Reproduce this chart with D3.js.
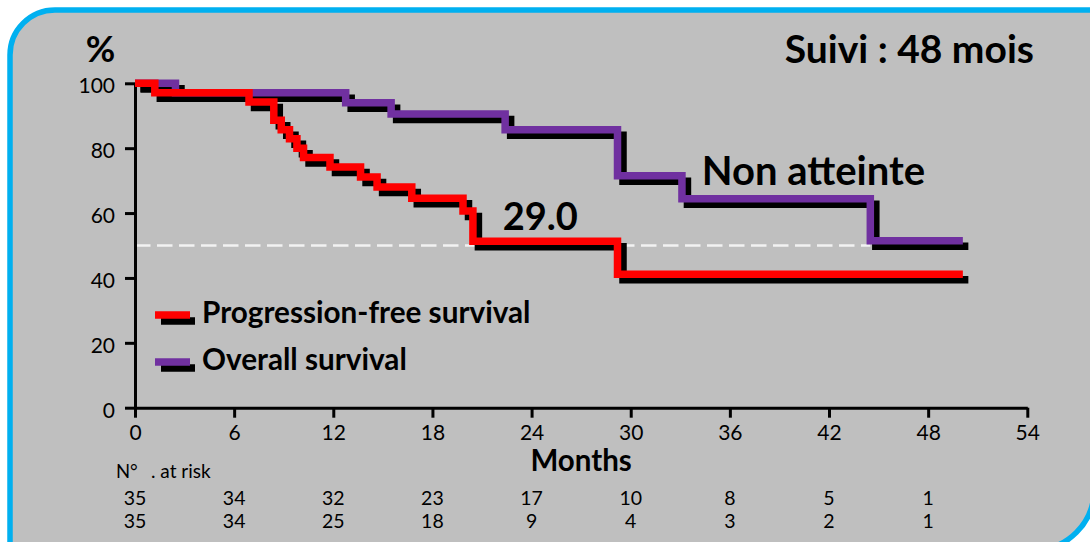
<!DOCTYPE html>
<html>
<head>
<meta charset="utf-8">
<script src="https://cdn.jsdelivr.net/npm/d3@7"></script>
<style>
  html, body { margin: 0; padding: 0; background: #ffffff; }
  svg { display: block; font-family: Lato, "Open Sans", sans-serif; }
</style>
</head>
<body>
<svg id="chart" width="1090" height="542"></svg>
<script>
// Kaplan–Meier steps: time in months, percentage still event-free
const pfsMonths  = [0, 1.2, 6.9, 8.4, 8.85, 9.35, 9.8, 10.2, 11.8, 13.65, 14.65, 16.75, 19.85, 20.45, 29.2, 50.1];
const pfsPercent = [100, 97.1, 94.2, 88.6, 85.7, 82.9, 80.0, 77.1, 74.2, 71.1, 68.0, 64.6, 60.6, 51.3, 41.1, 41.1];
const osMonths   = [0, 2.45, 12.75, 15.5, 22.4, 29.2, 33.1, 44.5, 50.1];
const osPercent  = [100, 97.1, 94.0, 90.5, 85.7, 71.5, 64.4, 51.5, 51.5];

// Axes
const monthTicks   = [0, 6, 12, 18, 24, 30, 36, 42, 48, 54];
const percentTicks = [0, 20, 40, 60, 80, 100];

// Numbers at risk
const riskMonths = [0, 6, 12, 18, 24, 30, 36, 42, 48];
const atRiskOs   = [35, 34, 32, 23, 17, 10, 8, 5, 1];
const atRiskPfs  = [35, 34, 25, 18, 9, 4, 3, 2, 1];

// Texts
const seriesNames  = ["Progression-free survival", "Overall survival"];
const medianPfs    = "29.0";
const medianOs     = "Non atteinte";
const followUp     = "Suivi : 48 mois";
const medianLevel  = 50;

const colors = { pfs: "#ff0000", os: "#7030a0", shadow: "#000000", frame: "#00b0f0", panel: "#bfbfbf" };

const svg = d3.select("#chart");

// Panel with two rounded diagonal corners
const L = 10, T = 10, R = 1094, B = 550, r1 = 45, r2 = 60;
svg.append("path")
  .attr("d", `M${L},${T + r1} A${r1},${r1} 0 0 1 ${L + r1},${T} L${R},${T} L${R},${B - r2} A${r2},${r2} 0 0 1 ${R - r2},${B} L${L},${B} Z`)
  .attr("fill", colors.panel)
  .attr("stroke", colors.frame)
  .attr("stroke-width", 5.5);

const x = d3.scaleLinear().domain([0, 54]).range([135, 1027.3]);
const y = d3.scaleLinear().domain([0, 100]).range([407.7, 83.3]);

// 50% reference line up to where overall survival crosses it
const osCross = osMonths[osPercent.findIndex(v => v < 60 && v > 0)];
svg.append("line")
  .attr("x1", x(0)).attr("x2", x(osCross))
  .attr("y1", y(medianLevel)).attr("y2", y(medianLevel))
  .attr("stroke", "#f2f2f2").attr("stroke-width", 2.5)
  .attr("stroke-dasharray", "15.5 6.5");

// Axes
const yAxis = d3.axisLeft(y).tickValues(percentTicks).tickSize(10).tickSizeOuter(0).tickPadding(10);
const xAxis = d3.axisBottom(x).tickValues(monthTicks).tickSize(10).tickSizeOuter(0).tickPadding(7);

const gx = svg.append("g").attr("transform", `translate(0,${y(0)})`).call(xAxis);
const gy = svg.append("g").attr("transform", `translate(${x(0)},0)`).call(yAxis);
[gx, gy].forEach(g => {
  g.select(".domain").attr("stroke", "#000").attr("stroke-width", 3);
  g.selectAll(".tick line").attr("stroke", "#000").attr("stroke-width", 3);
  g.selectAll(".tick text").attr("fill", "#000").attr("font-size", 21).attr("font-family", "Lato, 'Open Sans', sans-serif");
});
gy.selectAll(".tick text").attr("dy", "0.45em");

// Survival curves
const line = d3.line()
  .x(d => x(d[0]))
  .y(d => y(d[1]))
  .curve(d3.curveStepAfter);

const pfsData = pfsMonths.map((m, i) => [m, pfsPercent[i]]);
const osData  = osMonths.map((m, i) => [m, osPercent[i]]);

const curves = svg.append("g").attr("fill", "none").attr("stroke-width", 7.5)
  .attr("stroke-linejoin", "miter").attr("stroke-linecap", "butt");

const shadow = curves.append("g").attr("transform", "translate(5.5,5.5)").attr("stroke", colors.shadow);
shadow.append("path").attr("d", line(osData));
shadow.append("path").attr("d", line(pfsData));
curves.append("path").attr("d", line(osData)).attr("stroke", colors.os);
curves.append("path").attr("d", line(pfsData)).attr("stroke", colors.pfs);

// Legend
const legend = svg.append("g");
[[colors.pfs, seriesNames[0], 315], [colors.os, seriesNames[1], 362]].forEach(([c, label, ly]) => {
  legend.append("line").attr("x1", 161).attr("x2", 195).attr("y1", ly + 6).attr("y2", ly + 6)
    .attr("stroke", colors.shadow).attr("stroke-width", 7.5);
  legend.append("line").attr("x1", 155).attr("x2", 190).attr("y1", ly).attr("y2", ly)
    .attr("stroke", c).attr("stroke-width", 7.5);
  legend.append("text").attr("x", 202).attr("y", ly + 8).attr("font-size", 29.7).attr("font-weight", 700)
    .attr("fill", "#000").text(label);
});

// Titles and medians
svg.append("text").attr("x", 100.5).attr("y", 62).attr("text-anchor", "middle")
  .attr("font-size", 36).attr("font-weight", 700).text("%");
svg.append("text").attr("x", 1034).attr("y", 63).attr("text-anchor", "end")
  .attr("font-size", 39).attr("font-weight", 700).text(followUp);
svg.append("text").attr("x", x(22.25)).attr("y", y(54.7))
  .attr("font-size", 38).attr("font-weight", 700).text(medianPfs);
svg.append("text").attr("x", x(34.3)).attr("y", y(68.6))
  .attr("font-size", 40).attr("font-weight", 700).text(medianOs);
svg.append("text").attr("x", x(27)).attr("y", 471).attr("text-anchor", "middle")
  .attr("font-size", 29.5).attr("font-weight", 700).text("Months");

// Numbers at risk
svg.append("text").attr("x", 116).attr("y", 478).attr("font-size", 18.5).text("N°");
svg.append("text").attr("x", 151).attr("y", 478).attr("font-size", 19).text(". at risk");
const risk = svg.append("g").attr("font-size", 19.5).attr("text-anchor", "middle");
[[atRiskOs, 505], [atRiskPfs, 528]].forEach(([row, ry]) => {
  risk.selectAll(null).data(row).join("text")
    .attr("x", (d, i) => x(riskMonths[i]))
    .attr("y", ry)
    .text(d => d);
});
</script>
</body>
</html>
